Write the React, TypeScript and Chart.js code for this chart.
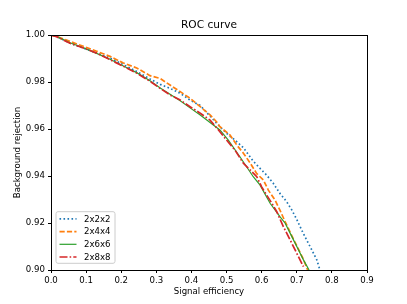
import { useEffect, useRef } from 'react';
import { Chart, registerables } from 'chart.js';

Chart.register(...registerables);

const chartTitle = 'ROC curve';
const xAxisTitle = 'Signal efficiency';
const yAxisTitle = 'Background rejection';
const seriesNames = ['2x2x2', '2x4x4', '2x6x6', '2x8x8'];

const x222 = [0, 0.016, 0.054, 0.092, 0.130, 0.168, 0.206, 0.244, 0.282, 0.311, 0.339, 0.368, 0.396, 0.425, 0.453, 0.481, 0.505, 0.524, 0.548, 0.576, 0.595, 0.614, 0.633, 0.652, 0.671, 0.686, 0.700, 0.714, 0.728, 0.743, 0.757, 0.766];
const y222 = [1.0, 0.9994, 0.9965, 0.9945, 0.9923, 0.9902, 0.9874, 0.9845, 0.9813, 0.9790, 0.9773, 0.9752, 0.9723, 0.9700, 0.9655, 0.9610, 0.9575, 0.9553, 0.9520, 0.9463, 0.9433, 0.9404, 0.9369, 0.9326, 0.9291, 0.9255, 0.9215, 0.9170, 0.9128, 0.9085, 0.9043, 0.9000];

const x244 = [0, 0.016, 0.054, 0.092, 0.130, 0.168, 0.206, 0.244, 0.282, 0.311, 0.339, 0.368, 0.396, 0.425, 0.453, 0.472, 0.481, 0.510, 0.529, 0.548, 0.567, 0.586, 0.605, 0.619, 0.638, 0.652, 0.667, 0.686, 0.705, 0.719, 0.731];
const y244 = [1.0, 0.9994, 0.9973, 0.9952, 0.9931, 0.9909, 0.9881, 0.9860, 0.9827, 0.9815, 0.9787, 0.9759, 0.9731, 0.9695, 0.9660, 0.9630, 0.9610, 0.9574, 0.9532, 0.9497, 0.9456, 0.9410, 0.9383, 0.9340, 0.9298, 0.9255, 0.9205, 0.9145, 0.9088, 0.9045, 0.9000];

const x266 = [0, 0.016, 0.054, 0.092, 0.130, 0.168, 0.206, 0.244, 0.282, 0.311, 0.339, 0.368, 0.396, 0.425, 0.453, 0.481, 0.505, 0.538, 0.576, 0.595, 0.624, 0.652, 0.667, 0.686, 0.705, 0.719, 0.735];
const y266 = [1.0, 0.9994, 0.9967, 0.9946, 0.9922, 0.9897, 0.9868, 0.9840, 0.9805, 0.9775, 0.9748, 0.9720, 0.9690, 0.9660, 0.9628, 0.9596, 0.9553, 0.9482, 0.9397, 0.9362, 0.9284, 0.9227, 0.9199, 0.9142, 0.9085, 0.9043, 0.9000];

const x288 = [0, 0.016, 0.054, 0.092, 0.130, 0.168, 0.206, 0.244, 0.282, 0.311, 0.339, 0.368, 0.396, 0.425, 0.453, 0.477, 0.500, 0.524, 0.548, 0.567, 0.586, 0.600, 0.614, 0.629, 0.643, 0.662, 0.681, 0.700, 0.719];
const y288 = [1.0, 0.9993, 0.9965, 0.9945, 0.9923, 0.9895, 0.9867, 0.9838, 0.9803, 0.9773, 0.9745, 0.9723, 0.9695, 0.9667, 0.9638, 0.9596, 0.9553, 0.9510, 0.9454, 0.9426, 0.9397, 0.9354, 0.9319, 0.9284, 0.9248, 0.9184, 0.9128, 0.9071, 0.9014];

const xTickValues = [0, 0.1, 0.2, 0.3, 0.4, 0.5, 0.6, 0.7, 0.8, 0.9];
const yTickValues = [0.9, 0.92, 0.94, 0.96, 0.98, 1.0];

const seriesX = [x222, x244, x266, x288];
const seriesY = [y222, y244, y266, y288];
const colors = ['#1f77b4', '#ff7f0e', '#2ca02c', '#d62728'];
const dashes = [[1.6, 2.4], [5.2, 2.2], [], [8, 2.1, 1.6, 2.1]];
const widths = [1.7, 1.7, 1.2, 1.7];

const FONT = 'DejaVu Sans';

const framePlugin = {
  id: 'frame',
  afterDatasetsDraw(chart: any) {
    const { ctx, chartArea } = chart;
    const { left, right, top, bottom } = chartArea;
    ctx.save();
    ctx.strokeStyle = '#000';
    ctx.lineWidth = 1;
    ctx.setLineDash([]);
    ctx.strokeRect(Math.round(left) + 0.5, Math.round(top) + 0.5, Math.round(right - left), Math.round(bottom - top));

    // legend (lower left, inside)
    const bx = left + 5;
    const bw = 59;
    const bh = 51.6;
    const by = bottom - 6.7 - bh;
    ctx.beginPath();
    const r = 2;
    ctx.moveTo(bx + r, by);
    ctx.lineTo(bx + bw - r, by);
    ctx.quadraticCurveTo(bx + bw, by, bx + bw, by + r);
    ctx.lineTo(bx + bw, by + bh - r);
    ctx.quadraticCurveTo(bx + bw, by + bh, bx + bw - r, by + bh);
    ctx.lineTo(bx + r, by + bh);
    ctx.quadraticCurveTo(bx, by + bh, bx, by + bh - r);
    ctx.lineTo(bx, by + r);
    ctx.quadraticCurveTo(bx, by, bx + r, by);
    ctx.closePath();
    ctx.fillStyle = 'rgba(255,255,255,0.8)';
    ctx.fill();
    ctx.strokeStyle = '#cccccc';
    ctx.lineWidth = 1;
    ctx.stroke();

    const datasets = chart.data.datasets;
    ctx.font = `8.6px "${FONT}"`;
    ctx.textBaseline = 'middle';
    ctx.textAlign = 'left';
    datasets.forEach((ds: any, i: number) => {
      const cy = by + 7.2 + i * 12.7;
      ctx.beginPath();
      ctx.strokeStyle = ds.borderColor;
      ctx.lineWidth = ds.borderWidth;
      ctx.setLineDash(ds.borderDash || []);
      ctx.moveTo(bx + 3.5, cy);
      ctx.lineTo(bx + 20.5, cy);
      ctx.stroke();
      ctx.setLineDash([]);
      ctx.fillStyle = '#000';
      ctx.fillText(ds.label, bx + 28, cy + 0.5);
    });
    ctx.restore();
  },
};

export default function App() {
  const canvasRef = useRef<HTMLCanvasElement | null>(null);

  useEffect(() => {
    document.body.style.margin = '0';
    const canvas = canvasRef.current;
    if (!canvas) return;
    Chart.defaults.font.family = FONT;
    Chart.defaults.color = '#000';

    const datasets = seriesNames.map((name, i) => ({
      label: name,
      data: seriesX[i].map((x, j) => ({ x, y: seriesY[i][j] })),
      borderColor: colors[i],
      backgroundColor: colors[i],
      borderWidth: widths[i],
      borderDash: dashes[i],
      pointRadius: 0,
      showLine: true,
      fill: false,
      tension: 0,
      order: 4 - i,
    }));

    const chart = new Chart(canvas, {
      type: 'scatter',
      data: { datasets },
      options: {
        responsive: false,
        animation: false,
        devicePixelRatio: 1,
        layout: { padding: { left: 0, right: 40, top: 0, bottom: 0 } },
        plugins: {
          legend: { display: false },
          tooltip: { enabled: false },
          title: {
            display: true,
            text: chartTitle,
            fullSize: false,
            font: { size: 10.6, weight: 'normal', family: FONT },
            color: '#000',
            padding: { top: 19, bottom: 3.3 },
          },
        },
        scales: {
          x: {
            type: 'linear',
            min: 0,
            max: 0.9,
            afterBuildTicks: (scale: any) => {
              scale.ticks = xTickValues.map((v) => ({ value: v }));
            },
            afterFit: (scale: any) => {
              scale.height = 34;
            },
            ticks: {
              font: { size: 8.6, family: FONT },
              color: '#000',
              padding: 3,
              maxRotation: 0,
              autoSkip: false,
              callback: (v: any) => Number(v).toFixed(1),
            },
            grid: { display: true, drawOnChartArea: false, drawTicks: true, tickLength: 3, color: '#000' },
            border: { display: false },
            title: {
              display: true,
              text: xAxisTitle,
              font: { size: 8.6, family: FONT },
              color: '#000',
              padding: { top: 0, bottom: 7.2 },
            },
          },
          y: {
            type: 'linear',
            min: 0.9,
            max: 1.0,
            afterBuildTicks: (scale: any) => {
              scale.ticks = yTickValues.map((v) => ({ value: v }));
            },
            afterFit: (scale: any) => {
              scale.width = 51;
            },
            ticks: {
              font: { size: 8.6, family: FONT },
              color: '#000',
              padding: 3,
              autoSkip: false,
              callback: (v: any) => Number(v).toFixed(2),
            },
            grid: { display: true, drawOnChartArea: false, drawTicks: true, tickLength: 3, color: '#000' },
            border: { display: false },
            title: {
              display: true,
              text: yAxisTitle,
              font: { size: 8.6, family: FONT },
              color: '#000',
              padding: { top: 12.5, bottom: 0 },
            },
          },
        },
      },
      plugins: [framePlugin],
    } as any);

    return () => chart.destroy();
  }, []);

  return (
    <div style={{ position: 'absolute', left: 0, top: 0, width: 407, height: 304, background: '#fff' }}>
      <canvas ref={canvasRef} width={407} height={304} style={{ display: 'block', width: 407, height: 304 }} />
    </div>
  );
}
